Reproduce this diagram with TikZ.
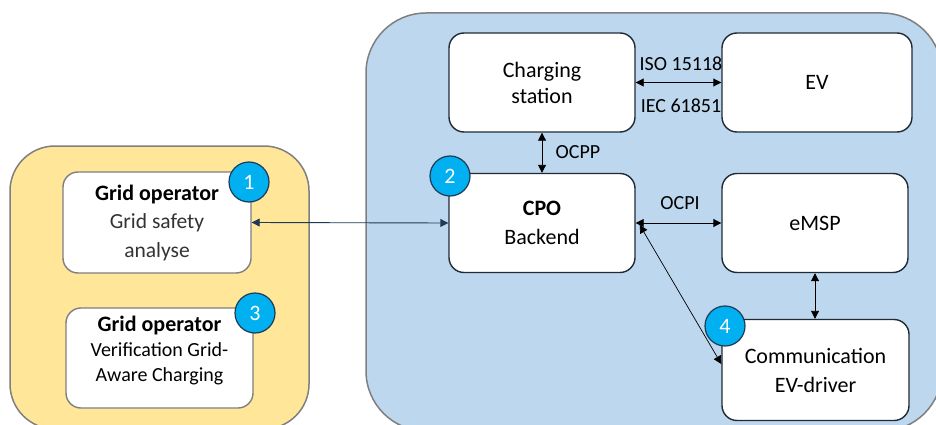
\documentclass[tikz,border=0pt]{standalone}
\usepackage{fontspec}
\setmainfont{Carlito}
\usetikzlibrary{arrows.meta}

\definecolor{panelline}{HTML}{7F7F7F}
\definecolor{gridfill}{HTML}{FFE699}
\definecolor{cpofill}{HTML}{BDD7EE}
\definecolor{boxline}{HTML}{1F2A36}
\definecolor{navy}{HTML}{1F3A55}
\definecolor{badge}{HTML}{00B0F0}
\definecolor{softtext}{HTML}{333333}

\begin{document}
\begin{tikzpicture}[x=1pt,y=-1pt,
  panel/.style={draw=panelline, line width=1.5pt},
  box/.style={draw=boxline, line width=1.4pt, fill=white, rounded corners=15pt,
    align=center, inner sep=0pt, font=\fontsize{22}{29}\selectfont},
  gobox/.style={box, draw=panelline},
  badgenode/.style={circle, fill=badge, draw=navy, line width=1.2pt,
    minimum size=40pt, inner sep=0pt, text=white, font=\fontsize{22}{22}\selectfont},
  arr/.style={line width=0.9pt, {Triangle[length=8pt,width=8pt]}-{Triangle[length=8pt,width=8pt]}},
  lbl/.style={inner sep=0pt, font=\fontsize{20}{22}\selectfont}
]
\useasboundingbox (0,0) rectangle (936,425);
\clip (0,0) rectangle (936,425);

% background panels
\fill[white] (0,0) rectangle (936,425);
\draw[panel, fill=gridfill, rounded corners=45pt] (10,146) rectangle (309,429);
\draw[panel, fill=cpofill, rounded corners=60pt] (366,13) rectangle (942,431);

% grid operator side
\node[gobox, minimum width=188pt, minimum height=101pt] (go1) at (157,222.5) {};
\node[align=center, inner sep=0pt, font=\fontsize{21.5}{28.5}\selectfont] (go1t) at (157,223)
  {\textbf{\fontsize{22}{28.5}\selectfont Grid operator}\\\textcolor{softtext}{Grid safety}\\\textcolor{softtext}{analyse}};
\node[gobox, minimum width=187pt, minimum height=100pt] (go3) at (159.5,358) {};
\node[align=center, inner sep=0pt, font=\fontsize{20}{25}\selectfont] (go3t) at (159.5,350.5)
  {\textbf{\fontsize{22}{25}\selectfont Grid operator}\\Verification Grid-\\Aware Charging};

% operator side
\node[box, minimum width=186pt, minimum height=99pt, font=\fontsize{22}{26}\selectfont] (cs) at (542,82.5) {Charging\\station};
\node[box, minimum width=190pt, minimum height=99pt] (ev) at (817,82.5) {EV};
\node[box, minimum width=186pt, minimum height=99pt] (cpo) at (542,223) {\textbf{CPO}\\Backend};
\node[box, minimum width=186pt, minimum height=99pt] (emsp) at (815,223) {eMSP};
\node[box, minimum width=187pt, minimum height=101pt] (comm) at (815.5,370) {Communication\\EV-driver};

% connectors
\draw[arr, navy] (go1.east) -- (cpo.west);
\draw[arr] (cs.east) -- (ev.west);
\draw[arr] (cs.south) -- (cpo.north);
\draw[arr] (cpo.east) -- (emsp.west);
\draw[arr] (emsp.south) -- (emsp.south |- comm.north);
\draw[arr, line width=0.7pt] ([shift={(4,2)}]cpo.east) -- ([yshift=6pt]comm.west);

% protocol labels
\node[lbl] (iso) at (681,64) {ISO 15118};
\node[lbl] (iec) at (681,106) {IEC 61851};
\node[lbl] (ocpp) at (578,152) {OCPP};
\node[lbl] (ocpi) at (680,203.5) {OCPI};

% step badges
\node[badgenode] (b1) at (249,182) {1};
\node[badgenode] (b2) at (450,176) {2};
\node[badgenode] (b3) at (255,313) {3};
\node[badgenode] (b4) at (725,326) {4};
\end{tikzpicture}
\end{document}
